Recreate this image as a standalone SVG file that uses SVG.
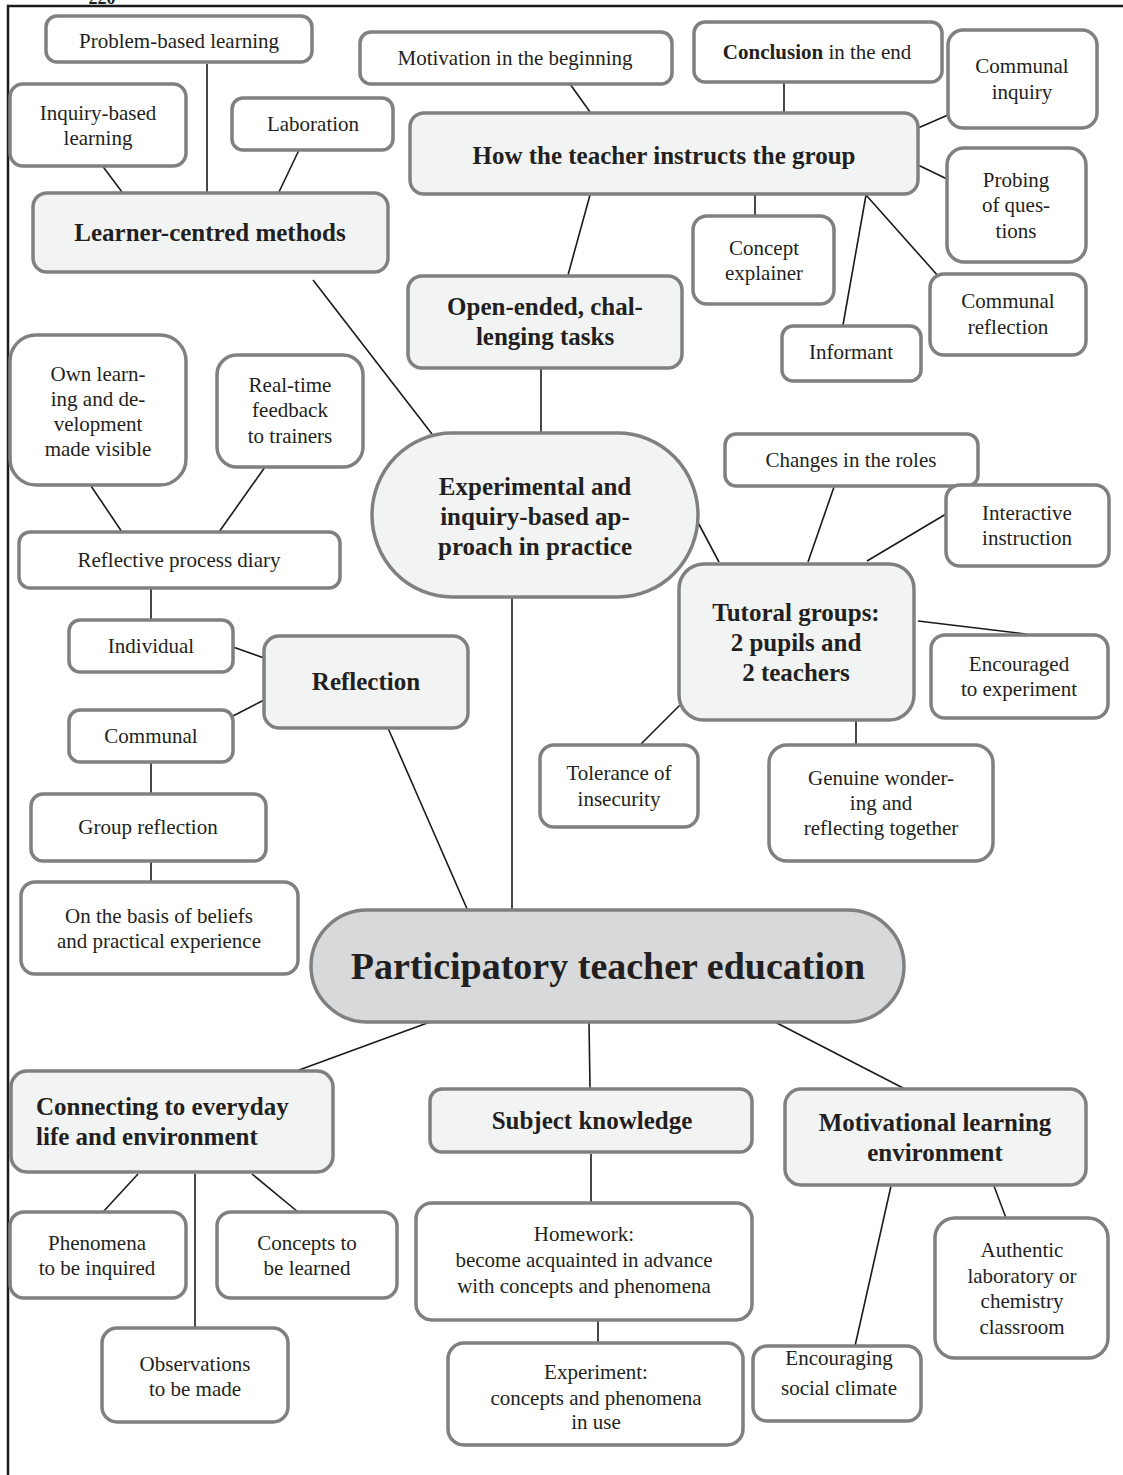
<svg xmlns="http://www.w3.org/2000/svg" width="1123" height="1475" viewBox="0 0 1123 1475">
  <style>
    .box { fill: #ffffff; stroke: #808080; stroke-width: 3.5; }
    .main { fill: #f2f4f3; stroke: #808080; stroke-width: 3.5; }
    .root { fill: #d8d9db; stroke: #808080; stroke-width: 3.5; }
    .t { font-family: "Liberation Serif", "Times New Roman", serif; font-size: 21px; fill: #231f20; text-anchor: middle; }
    .h { font-family: "Liberation Serif", "Times New Roman", serif; font-size: 25px; font-weight: bold; fill: #231f20; text-anchor: middle; }
    .r { font-family: "Liberation Serif", "Times New Roman", serif; font-size: 38px; font-weight: bold; fill: #231f20; text-anchor: middle; }
    .frame { stroke: #1a1a1a; stroke-width: 2.5; fill: none; }
    #connectors line { stroke: #1a1a1a; stroke-width: 1.6; }
  </style>

  <rect width="1123" height="1475" fill="#ffffff"/>

  <!-- page number and page frame -->
  <text x="102" y="4" class="h" style="font-size:18px">220</text>
  <path class="frame" d="M8 1475 V6 H1123"/>

  <!-- connectors -->
  <g id="connectors">
    <line x1="122" y1="192" x2="101" y2="164"/>
    <line x1="207" y1="192" x2="207" y2="64"/>
    <line x1="279" y1="192" x2="299" y2="150"/>
    <line x1="570" y1="84" x2="590" y2="112"/>
    <line x1="784" y1="78" x2="784" y2="112"/>
    <line x1="918" y1="128" x2="948" y2="115"/>
    <line x1="918" y1="165" x2="947" y2="179"/>
    <line x1="755" y1="195" x2="755" y2="215"/>
    <line x1="866" y1="195" x2="843" y2="325"/>
    <line x1="866" y1="195" x2="939" y2="277"/>
    <line x1="590" y1="195" x2="568" y2="275"/>
    <line x1="541" y1="368" x2="541" y2="434"/>
    <line x1="313" y1="280" x2="432" y2="434"/>
    <line x1="694" y1="515" x2="719" y2="562"/>
    <line x1="512" y1="597" x2="512" y2="910"/>
    <line x1="91" y1="486" x2="122" y2="532"/>
    <line x1="265" y1="467" x2="219" y2="532"/>
    <line x1="151" y1="588" x2="151" y2="620"/>
    <line x1="233" y1="647" x2="264" y2="658"/>
    <line x1="233" y1="716" x2="264" y2="700"/>
    <line x1="151" y1="763" x2="151" y2="794"/>
    <line x1="151" y1="862" x2="151" y2="882"/>
    <line x1="388" y1="728" x2="468" y2="911"/>
    <line x1="834" y1="487" x2="808" y2="562"/>
    <line x1="946" y1="514" x2="867" y2="561"/>
    <line x1="918" y1="621" x2="1026" y2="634"/>
    <line x1="856" y1="717" x2="856" y2="745"/>
    <line x1="681" y1="704" x2="640" y2="745"/>
    <line x1="430" y1="1022" x2="280" y2="1077"/>
    <line x1="589" y1="1022" x2="590" y2="1088"/>
    <line x1="775" y1="1022" x2="903" y2="1088"/>
    <line x1="138" y1="1174" x2="103" y2="1212"/>
    <line x1="195" y1="1174" x2="195" y2="1330"/>
    <line x1="252" y1="1174" x2="298" y2="1212"/>
    <line x1="591" y1="1154" x2="591" y2="1203"/>
    <line x1="598" y1="1320" x2="598" y2="1343"/>
    <line x1="891" y1="1186" x2="855" y2="1346"/>
    <line x1="994" y1="1186" x2="1006" y2="1218"/>
  </g>

  <!-- learner-centred methods branch -->
  <g id="problem-based">
    <rect class="box" x="46" y="16" width="266" height="46" rx="11"/>
    <text class="t" x="179" y="48">Problem-based learning</text>
  </g>
  <g id="inquiry-based">
    <rect class="box" x="10" y="84" width="176" height="82" rx="13"/>
    <text class="t" x="98" y="120">Inquiry-based</text>
    <text class="t" x="98" y="145">learning</text>
  </g>
  <g id="laboration">
    <rect class="box" x="232" y="98" width="161" height="52" rx="11"/>
    <text class="t" x="313" y="131">Laboration</text>
  </g>
  <g id="learner-centred">
    <rect class="main" x="33" y="193" width="355" height="79" rx="14"/>
    <text class="h" x="210" y="241">Learner-centred methods</text>
  </g>

  <!-- teacher instruction branch -->
  <g id="motivation-beginning">
    <rect class="box" x="360" y="32" width="312" height="52" rx="11"/>
    <text class="t" x="515" y="65">Motivation in the beginning</text>
  </g>
  <g id="conclusion-end">
    <rect class="box" x="694" y="22" width="248" height="60" rx="11"/>
    <text class="t" x="817" y="59"><tspan font-weight="bold">Conclusion</tspan> in the end</text>
  </g>
  <g id="communal-inquiry">
    <rect class="box" x="948" y="30" width="149" height="98" rx="15"/>
    <text class="t" x="1022" y="73">Communal</text>
    <text class="t" x="1022" y="99">inquiry</text>
  </g>
  <g id="teacher-instructs">
    <rect class="main" x="410" y="113" width="508" height="81" rx="14"/>
    <text class="h" x="664" y="164">How the teacher instructs the group</text>
  </g>
  <g id="probing">
    <rect class="box" x="947" y="148" width="139" height="114" rx="17"/>
    <text class="t" x="1016" y="187">Probing</text>
    <text class="t" x="1016" y="212">of  ques-</text>
    <text class="t" x="1016" y="238">tions</text>
  </g>
  <g id="concept-explainer">
    <rect class="box" x="693" y="216" width="141" height="88" rx="14"/>
    <text class="t" x="764" y="255">Concept</text>
    <text class="t" x="764" y="280">explainer</text>
  </g>
  <g id="communal-reflection">
    <rect class="box" x="930" y="274" width="156" height="81" rx="14"/>
    <text class="t" x="1008" y="308">Communal</text>
    <text class="t" x="1008" y="334">reflection</text>
  </g>
  <g id="informant">
    <rect class="box" x="782" y="326" width="139" height="55" rx="11"/>
    <text class="t" x="851" y="359">Informant</text>
  </g>
  <g id="open-ended">
    <rect class="main" x="408" y="276" width="274" height="92" rx="14"/>
    <text class="h" x="545" y="315">Open-ended, chal-</text>
    <text class="h" x="545" y="345">lenging tasks</text>
  </g>

  <!-- experimental approach -->
  <g id="experimental">
    <rect class="main" x="372" y="433" width="326" height="164" rx="80" ry="82"/>
    <text class="h" x="535" y="495">Experimental and</text>
    <text class="h" x="535" y="525">inquiry-based ap-</text>
    <text class="h" x="535" y="555">proach in practice</text>
  </g>

  <!-- reflection branch -->
  <g id="own-learning">
    <rect class="box" x="10" y="335" width="176" height="150" rx="26"/>
    <text class="t" x="98" y="381">Own learn-</text>
    <text class="t" x="98" y="406">ing and de-</text>
    <text class="t" x="98" y="431">velopment</text>
    <text class="t" x="98" y="456">made visible</text>
  </g>
  <g id="real-time-feedback">
    <rect class="box" x="217" y="355" width="146" height="112" rx="20"/>
    <text class="t" x="290" y="392">Real-time</text>
    <text class="t" x="290" y="417">feedback</text>
    <text class="t" x="290" y="443">to trainers</text>
  </g>
  <g id="process-diary">
    <rect class="box" x="19" y="532" width="321" height="56" rx="11"/>
    <text class="t" x="179" y="567">Reflective process diary</text>
  </g>
  <g id="individual">
    <rect class="box" x="69" y="620" width="164" height="52" rx="11"/>
    <text class="t" x="151" y="653">Individual</text>
  </g>
  <g id="communal">
    <rect class="box" x="69" y="710" width="164" height="52" rx="11"/>
    <text class="t" x="151" y="743">Communal</text>
  </g>
  <g id="reflection">
    <rect class="main" x="264" y="636" width="204" height="92" rx="15"/>
    <text class="h" x="366" y="690">Reflection</text>
  </g>
  <g id="group-reflection">
    <rect class="box" x="31" y="794" width="235" height="67" rx="12"/>
    <text class="t" x="148" y="834">Group reflection</text>
  </g>
  <g id="basis-beliefs">
    <rect class="box" x="21" y="882" width="277" height="92" rx="14"/>
    <text class="t" x="159" y="923">On the basis of beliefs</text>
    <text class="t" x="159" y="948">and practical experience</text>
  </g>

  <!-- tutorial groups branch -->
  <g id="changes-roles">
    <rect class="box" x="725" y="434" width="253" height="52" rx="11"/>
    <text class="t" x="851" y="467">Changes in the roles</text>
  </g>
  <g id="interactive-instruction">
    <rect class="box" x="946" y="485" width="163" height="81" rx="14"/>
    <text class="t" x="1027" y="520">Interactive</text>
    <text class="t" x="1027" y="545">instruction</text>
  </g>
  <g id="tutoral-groups">
    <rect class="main" x="679" y="564" width="235" height="156" rx="25"/>
    <text class="h" x="796" y="621">Tutoral groups:</text>
    <text class="h" x="796" y="651">2 pupils and</text>
    <text class="h" x="796" y="681">2 teachers</text>
  </g>
  <g id="encouraged-experiment">
    <rect class="box" x="931" y="635" width="177" height="83" rx="14"/>
    <text class="t" x="1019" y="671">Encouraged</text>
    <text class="t" x="1019" y="696">to experiment</text>
  </g>
  <g id="tolerance">
    <rect class="box" x="540" y="745" width="158" height="82" rx="14"/>
    <text class="t" x="619" y="780">Tolerance of</text>
    <text class="t" x="619" y="806">insecurity</text>
  </g>
  <g id="genuine-wondering">
    <rect class="box" x="769" y="745" width="224" height="116" rx="18"/>
    <text class="t" x="881" y="785">Genuine wonder-</text>
    <text class="t" x="881" y="810">ing and</text>
    <text class="t" x="881" y="835">reflecting together</text>
  </g>

  <!-- central concept -->
  <g id="participatory">
    <rect class="root" x="311" y="910" width="593" height="112" rx="56"/>
    <text class="r" x="608" y="979">Participatory teacher education</text>
  </g>

  <!-- everyday life branch -->
  <g id="everyday-life">
    <rect class="main" x="11" y="1071" width="322" height="101" rx="16"/>
    <text class="h" x="36" y="1115" style="text-anchor:start">Connecting to everyday</text>
    <text class="h" x="36" y="1145" style="text-anchor:start">life and environment</text>
  </g>
  <g id="phenomena">
    <rect class="box" x="10" y="1212" width="176" height="86" rx="14"/>
    <text class="t" x="97" y="1250">Phenomena</text>
    <text class="t" x="97" y="1275">to be inquired</text>
  </g>
  <g id="concepts">
    <rect class="box" x="217" y="1212" width="180" height="86" rx="14"/>
    <text class="t" x="307" y="1250">Concepts to</text>
    <text class="t" x="307" y="1275">be learned</text>
  </g>
  <g id="observations">
    <rect class="box" x="102" y="1328" width="186" height="94" rx="15"/>
    <text class="t" x="195" y="1371">Observations</text>
    <text class="t" x="195" y="1396">to be made</text>
  </g>

  <!-- subject knowledge branch -->
  <g id="subject-knowledge">
    <rect class="main" x="430" y="1089" width="322" height="63" rx="12"/>
    <text class="h" x="592" y="1129">Subject knowledge</text>
  </g>
  <g id="homework">
    <rect class="box" x="416" y="1203" width="336" height="117" rx="16"/>
    <text class="t" x="584" y="1241">Homework:</text>
    <text class="t" x="584" y="1267">become acquainted in advance</text>
    <text class="t" x="584" y="1293">with concepts and phenomena</text>
  </g>
  <g id="experiment">
    <rect class="box" x="448" y="1343" width="295" height="102" rx="16"/>
    <text class="t" x="596" y="1379">Experiment:</text>
    <text class="t" x="596" y="1405">concepts and phenomena</text>
    <text class="t" x="596" y="1429">in use</text>
  </g>

  <!-- motivational environment branch -->
  <g id="motivational-environment">
    <rect class="main" x="785" y="1089" width="301" height="96" rx="16"/>
    <text class="h" x="935" y="1131">Motivational learning</text>
    <text class="h" x="935" y="1161">environment</text>
  </g>
  <g id="social-climate">
    <rect class="box" x="753" y="1346" width="168" height="75" rx="14"/>
    <text class="t" x="839" y="1365">Encouraging</text>
    <text class="t" x="839" y="1395">social climate</text>
  </g>
  <g id="authentic-laboratory">
    <rect class="box" x="935" y="1218" width="173" height="140" rx="20"/>
    <text class="t" x="1022" y="1257">Authentic</text>
    <text class="t" x="1022" y="1283">laboratory or</text>
    <text class="t" x="1022" y="1308">chemistry</text>
    <text class="t" x="1022" y="1334">classroom</text>
  </g>
</svg>
